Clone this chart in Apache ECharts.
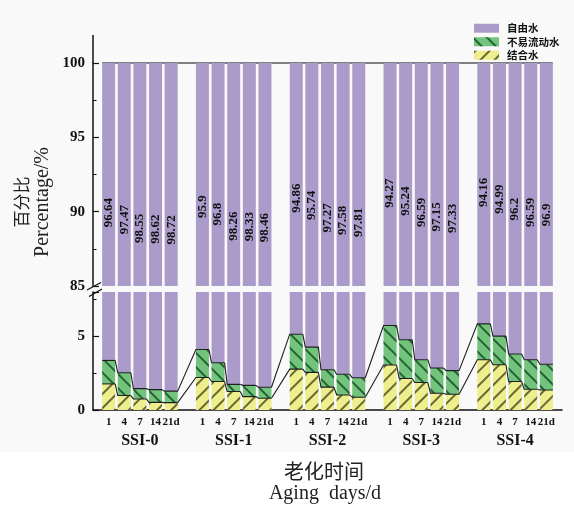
<!DOCTYPE html>
<html>
<head>
<meta charset="utf-8">
<script src="https://cdn.jsdelivr.net/npm/echarts@6/dist/echarts.min.js"></script>
<style>
  html, body { margin: 0; padding: 0; background: #fff; }
  #chart { width: 574px; height: 506px; }
</style>
</head>
<body>
<div id="chart"></div>
<script>
// Sample groups and aging days
const groups = ['SSI-0', 'SSI-1', 'SSI-2', 'SSI-3', 'SSI-4'];
const days = ['1', '4', '7', '14', '21d'];

// Water fractions (%) per group, one value per aging day
const freeWater = [          // 自由水
  [96.64, 97.47, 98.55, 98.62, 98.72],
  [95.9, 96.8, 98.26, 98.33, 98.46],
  [94.86, 95.74, 97.27, 97.58, 97.81],
  [94.27, 95.24, 96.59, 97.15, 97.33],
  [94.16, 94.99, 96.2, 96.59, 96.9]
];
const immobileWater = [      // 不易流动水
  [1.59, 1.55, 0.70, 0.86, 0.78],
  [1.90, 1.27, 0.49, 0.76, 0.74],
  [2.37, 1.71, 1.18, 1.40, 1.33],
  [2.68, 2.62, 1.55, 1.71, 1.60],
  [2.43, 1.94, 1.87, 2.00, 1.74]
];
const boundWater = [         // 结合水
  [1.77, 0.98, 0.75, 0.52, 0.50],
  [2.20, 1.93, 1.25, 0.91, 0.80],
  [2.77, 2.55, 1.55, 1.02, 0.86],
  [3.05, 2.14, 1.86, 1.14, 1.07],
  [3.41, 3.07, 1.93, 1.41, 1.36]
];

// y-axis tick labels of the two panels
const upperTicks = [85, 90, 95, 100];
const lowerTicks = [0, 5];

const SERIF = '"Liberation Serif", "Noto Sans CJK SC", serif';
const CJK = '"Noto Sans CJK SC", sans-serif';
const BAR_W = 13;
const SLOTS = days.length + 1;                 // one empty slot between groups
const N_CAT = groups.length * SLOTS + 1;       // plus an empty slot at each end

const C_FREE = '#ab9bca';
const C_IMM = '#72c47d';
const C_BOUND = '#eeee8c';

// category index of every bar
function slot(g, i) { return 1 + g * SLOTS + i; }

// category list: one entry per slot; bars are keyed "group|day"
const categories = [];
const catInfo = [];
for (let k = 0; k < N_CAT; k++) { categories.push('gap' + k); catInfo.push(null); }
groups.forEach((gName, g) => days.forEach((d, i) => {
  categories[slot(g, i)] = gName + '|' + d;
  catInfo[slot(g, i)] = { g: g, i: i };
}));

function seriesData(arr) {
  const out = new Array(N_CAT).fill('-');
  arr.forEach((row, g) => row.forEach((v, i) => { out[slot(g, i)] = v; }));
  return out;
}

// cumulative tops of the stacked levels, used by the connecting lines
function levelData(parts) {
  const out = [];
  groups.forEach((_, g) => days.forEach((_, i) => {
    let s = 0;
    parts.forEach(p => { s += p[g][i]; });
    out.push([slot(g, i), s]);
  }));
  return out;
}

// vertical value labels inside the purple bars
const labelData = [];
freeWater.forEach((row, g) => row.forEach((v, i) => {
  labelData.push([slot(g, i), 91.28 - 0.554 * (v - 94.2), v]);
}));

const hatch = (rot, color) => ({
  symbol: 'rect', symbolSize: 1,
  dashArrayX: [1, 0], dashArrayY: [1.2, 8],
  rotation: rot, color: color
});
const immStyle = { color: C_IMM, decal: hatch(Math.PI / 4, 'rgba(25,80,40,0.85)') };
const boundStyle = { color: C_BOUND, decal: hatch(-Math.PI / 4, 'rgba(70,70,30,0.8)') };
const freeStyle = { color: C_FREE };

function connector(params, api) {
  const i = params.dataIndexInside;
  const half = BAR_W / 2;
  const cur = api.coord([api.value(0), api.value(1)]);
  const pts = [];
  if (i > 0) {
    const prev = api.coord([api.value(0, i - 1), api.value(1, i - 1)]);
    pts.push([prev[0] + half, prev[1]]);
  }
  pts.push([cur[0] - half, cur[1]], [cur[0] + half, cur[1]]);
  return {
    type: 'polyline',
    shape: { points: pts },
    style: { stroke: '#1e1e1e', lineWidth: 1.1, fill: null }
  };
}

function barSet(xi, yi, stack) {
  return [
    { name: '结合水', type: 'bar', xAxisIndex: xi, yAxisIndex: yi, stack: stack,
      barWidth: BAR_W, data: seriesData(boundWater), itemStyle: boundStyle },
    { name: '不易流动水', type: 'bar', xAxisIndex: xi, yAxisIndex: yi, stack: stack,
      barWidth: BAR_W, data: seriesData(immobileWater), itemStyle: immStyle },
    { name: '自由水', type: 'bar', xAxisIndex: xi, yAxisIndex: yi, stack: stack,
      barWidth: BAR_W, data: seriesData(freeWater), itemStyle: freeStyle }
  ];
}

const xCommon = {
  type: 'category', data: categories, boundaryGap: false,
  splitLine: { show: false }, axisTick: { show: false }
};

const yMajor = (grid, min, max, ticks) => ({
  gridIndex: grid, type: 'value', position: 'left', min: min, max: max, interval: 5,
  splitLine: { show: false },
  axisLine: { show: true, lineStyle: { color: '#111', width: 1.5 } },
  axisTick: { show: true, inside: true, length: 6, lineStyle: { color: '#111', width: 1.2 } },
  axisLabel: { margin: 8, fontFamily: SERIF, fontWeight: 'bold', fontSize: 15, color: '#111',
    formatter: v => ticks.indexOf(v) >= 0 ? String(v) : '' }
});
const yMinor = (grid, min, max) => ({
  gridIndex: grid, type: 'value', position: 'left', offset: 0, min: min, max: max, interval: 2.5,
  splitLine: { show: false }, axisLine: { show: false }, axisLabel: { show: false },
  axisTick: { show: true, inside: true, length: 3.5, lineStyle: { color: '#111', width: 1 } }
});

const chart = echarts.init(document.getElementById('chart'), null, { renderer: 'canvas' });
chart.setOption({
  animation: false,
  backgroundColor: '#ffffff',
  grid: [
    { left: 93, right: 12, top: 63, height: 223 },
    { left: 93, right: 12, top: 292, height: 118 }
  ],
  xAxis: [
    Object.assign({}, xCommon, { gridIndex: 0, show: false }),
    Object.assign({}, xCommon, {
      gridIndex: 1,
      axisLine: { lineStyle: { color: '#111', width: 1.5 } },
      axisLabel: {
        interval: 0, margin: 7, fontFamily: SERIF, fontWeight: 'bold', fontSize: 11, color: '#111',
        formatter: (v, idx) => catInfo[idx] ? days[catInfo[idx].i] : ''
      }
    }),
    Object.assign({}, xCommon, {
      gridIndex: 1, position: 'bottom', offset: 0,
      axisLine: { show: false },
      axisLabel: {
        interval: 0, margin: 23, fontFamily: SERIF, fontWeight: 'bold', fontSize: 16, color: '#111',
        formatter: (v, idx) => (catInfo[idx] && catInfo[idx].i === 2) ? groups[catInfo[idx].g] : ''
      }
    })
  ],
  yAxis: [
    yMajor(0, 85, 100, upperTicks),
    yMinor(0, 85, 100),
    yMajor(1, 0, 8, lowerTicks),
    yMinor(1, 0, 8)
  ],
  legend: {
    data: ['自由水', '不易流动水', '结合水'],
    orient: 'vertical', left: 469, top: 18,
    icon: 'rect', itemWidth: 25, itemHeight: 9, itemGap: 3,
    textStyle: { fontFamily: CJK, fontSize: 10.5, fontWeight: 'bold', color: '#111', padding: [0, 0, 0, 3] }
  },
  series: [
    ...barSet(0, 0, 'upper'),
    ...barSet(1, 2, 'lower'),
    { type: 'custom', xAxisIndex: 1, yAxisIndex: 2, z: 5, renderItem: connector,
      data: levelData([boundWater]) },
    { type: 'custom', xAxisIndex: 1, yAxisIndex: 2, z: 5, renderItem: connector,
      data: levelData([boundWater, immobileWater]) },
    { type: 'custom', xAxisIndex: 0, yAxisIndex: 0, z: 1, renderItem: connector,
      data: levelData([boundWater, immobileWater, freeWater]) },
    { type: 'custom', xAxisIndex: 0, yAxisIndex: 0, z: 6,
      data: labelData,
      renderItem: (params, api) => {
        const p = api.coord([api.value(0), api.value(1)]);
        return {
          type: 'text', x: p[0], y: p[1], rotation: Math.PI / 2,
          style: { text: String(api.value(2)), font: 'bold 13px ' + SERIF,
            fill: '#111', align: 'center', verticalAlign: 'middle' }
        };
      } }
  ],
  graphic: [
    { type: 'rect', z: -10, silent: true, shape: { x: 0, y: 0, width: 574, height: 452 },
      style: { fill: '#f9f9f9' } },
    // upper end of the y axis above 100
    { type: 'line', shape: { x1: 93, y1: 35, x2: 93, y2: 63 },
      style: { stroke: '#111', lineWidth: 1.5 } },
    // axis break marks
    { type: 'line', shape: { x1: 87, y1: 290, x2: 101, y2: 282.5 },
      style: { stroke: '#111', lineWidth: 1.3 } },
    { type: 'line', shape: { x1: 89, y1: 296.5, x2: 102, y2: 289 },
      style: { stroke: '#111', lineWidth: 1.3 } },
    { type: 'text', x: 22, y: 202, rotation: Math.PI / 2,
      style: { text: '百分比', font: '17px ' + CJK, fill: '#222', align: 'center', verticalAlign: 'middle' } },
    { type: 'text', x: 43, y: 202, rotation: Math.PI / 2,
      style: { text: 'Percentage/%', font: '20px ' + SERIF, fill: '#222', align: 'center', verticalAlign: 'middle' } },
    { type: 'text', x: 324, y: 471,
      style: { text: '老化时间', font: '20px ' + CJK, fill: '#222', align: 'center', verticalAlign: 'middle' } },
    { type: 'text', x: 325, y: 494,
      style: { text: 'Aging  days/d', font: '20px ' + SERIF, fill: '#222', align: 'center', verticalAlign: 'middle' } }
  ]
});
</script>
</body>
</html>
